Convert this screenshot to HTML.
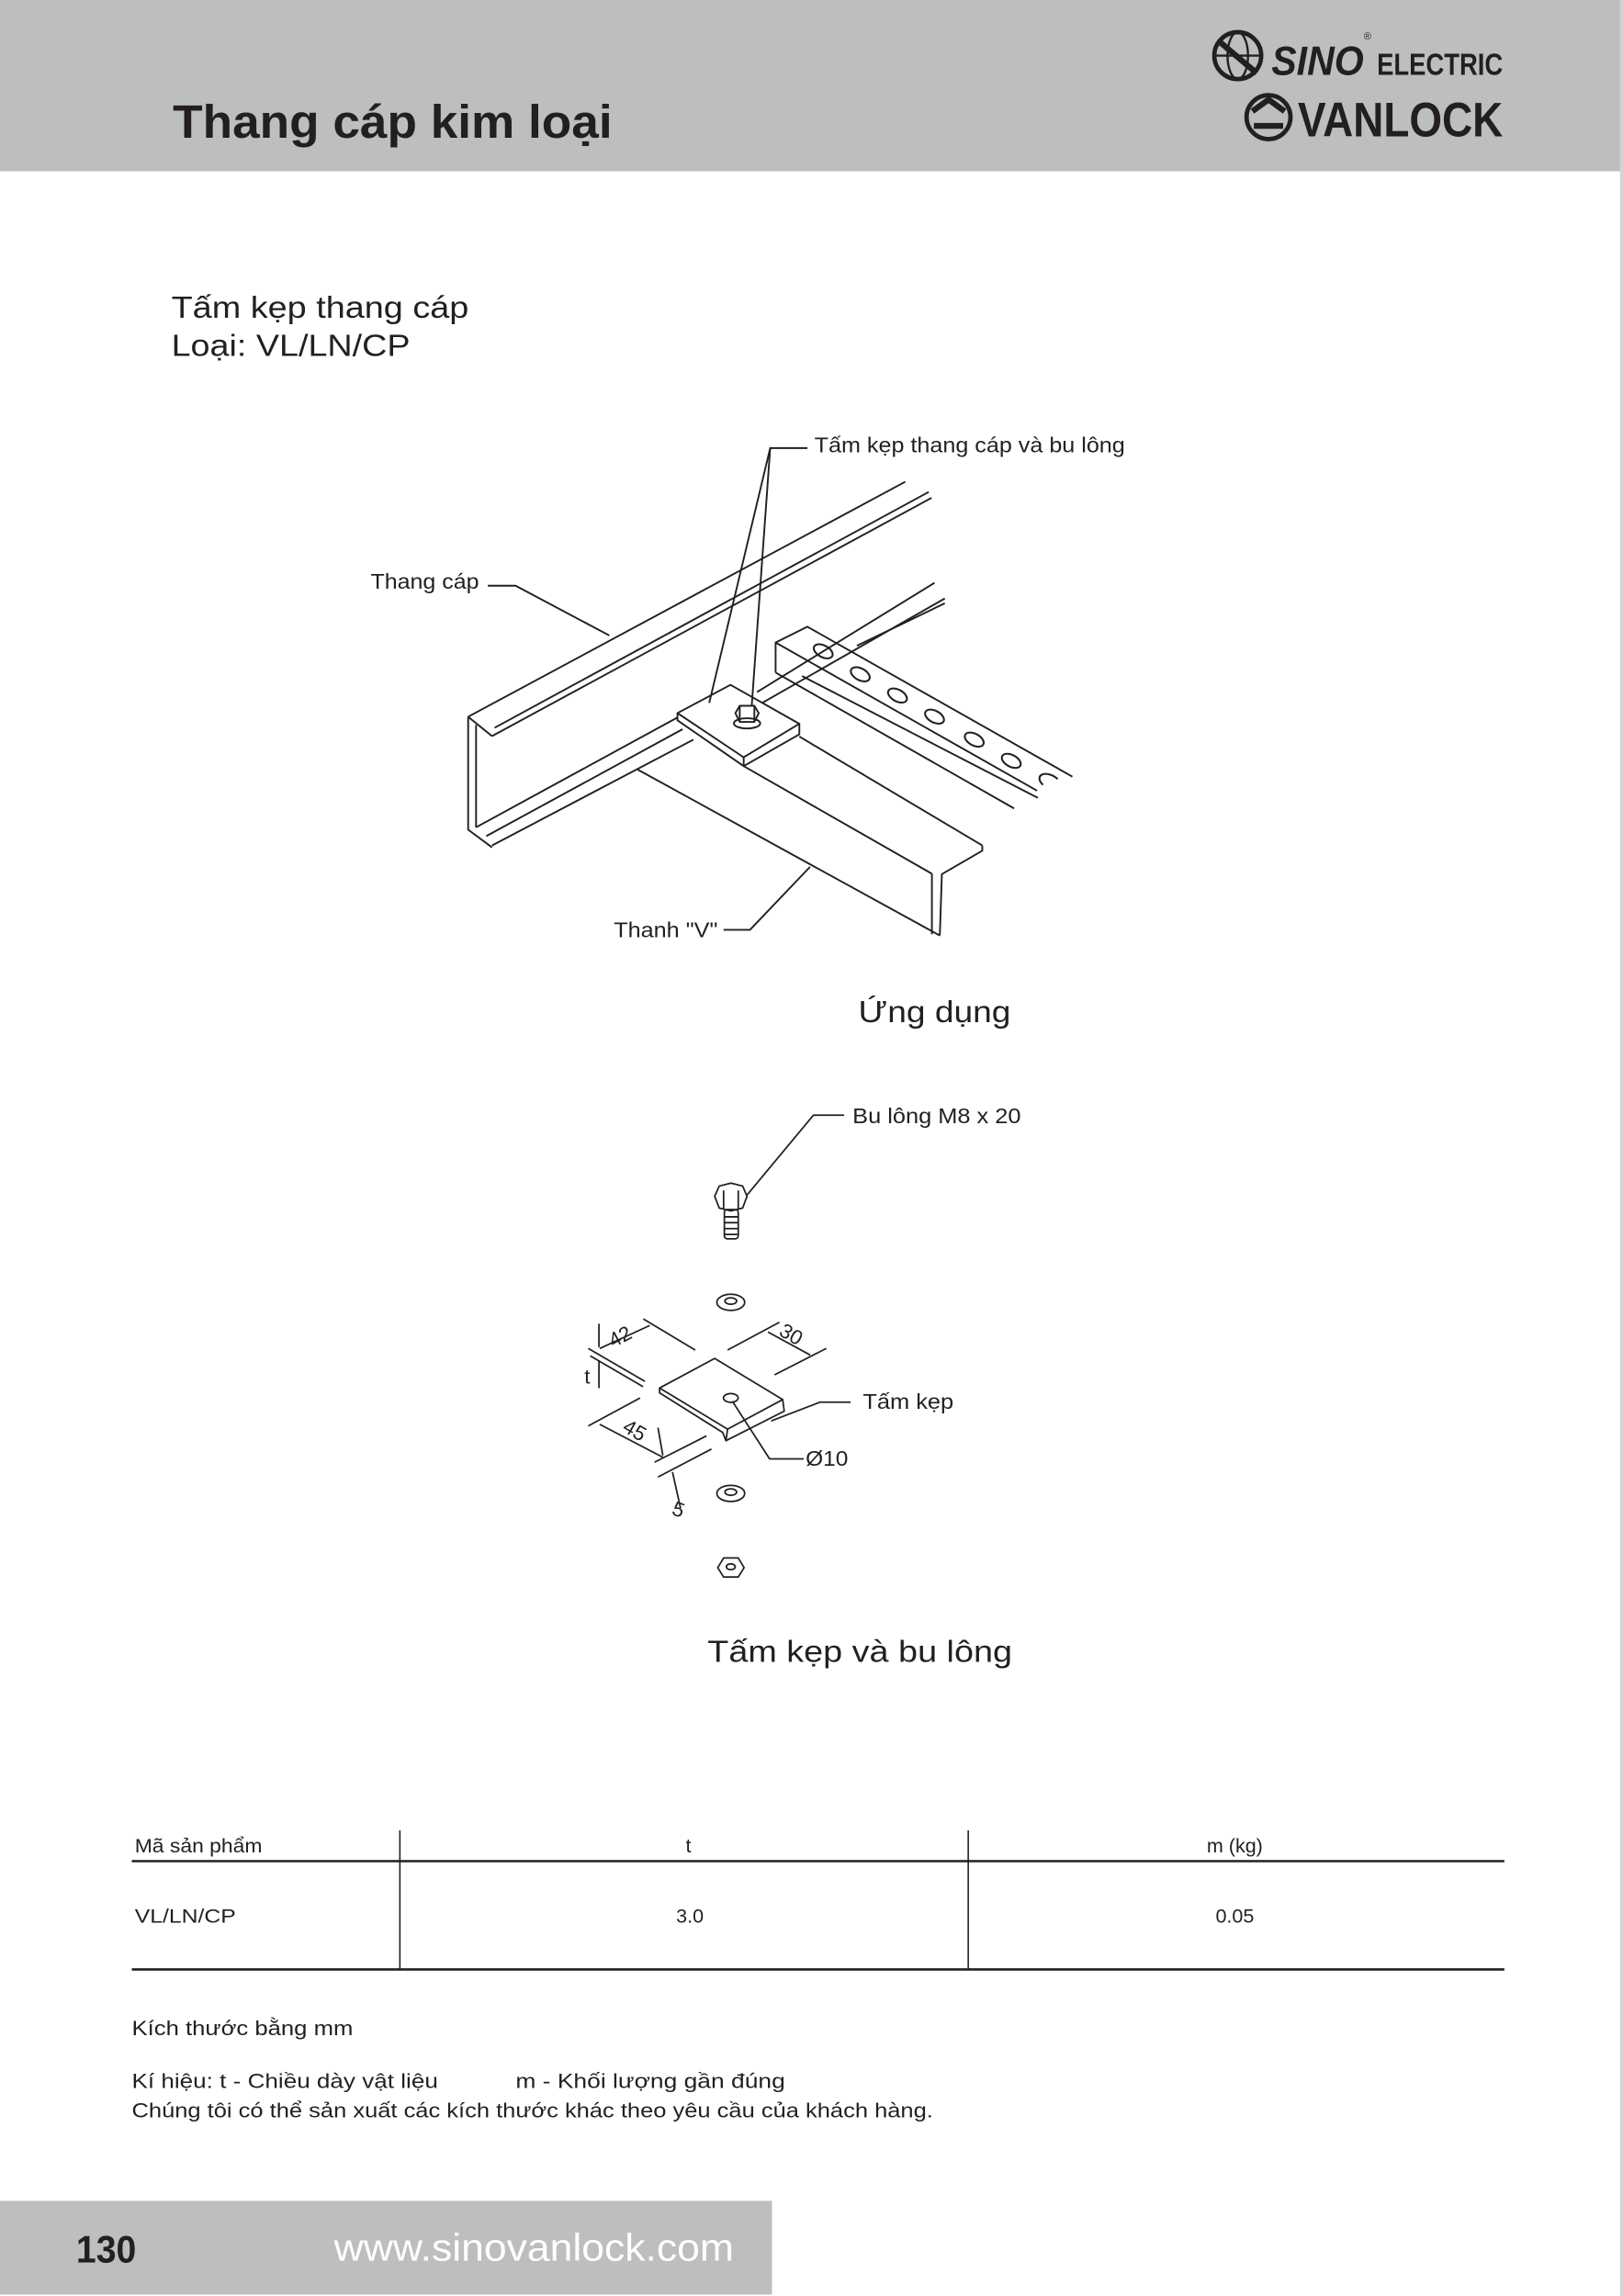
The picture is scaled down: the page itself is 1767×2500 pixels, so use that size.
<!DOCTYPE html>
<html><head><meta charset="utf-8"><style>
html,body{margin:0;padding:0;background:#fff}
svg{display:block}
text{font-family:"Liberation Sans",sans-serif;fill:#231f20}
</style></head><body>
<svg width="1767" height="2500" viewBox="0 0 1108 1568" preserveAspectRatio="none" xmlns="http://www.w3.org/2000/svg">
<rect x="0" y="0" width="1108" height="1568" fill="#fff"/>
<rect x="0" y="0" width="1108" height="117" fill="#bcbec0"/>
<rect x="1106" y="0" width="2" height="1568" fill="#d0d2d3"/>
<text x="118" y="94" font-size="32" font-weight="bold" textLength="300" lengthAdjust="spacingAndGlyphs">Thang cáp kim loại</text>
<g stroke="#231f20" fill="none" stroke-width="3">
<circle cx="845" cy="38" r="16"/>
<ellipse cx="845" cy="38" rx="7" ry="16" stroke-width="1.5"/>
<line x1="829" y1="38" x2="861" y2="38" stroke-width="1.5"/>
<path d="M832 28 L858 50" stroke-width="4"/>
<circle cx="866" cy="80" r="15"/>
<path d="M855 76 L866 68 L877 76 M856 86 L876 86" stroke-width="4"/>
</g>
<text x="868" y="51" font-size="28" font-weight="bold" font-style="italic" textLength="63" lengthAdjust="spacingAndGlyphs">SINO</text>
<text x="931" y="27" font-size="7">®</text>
<text x="940" y="51" font-size="21" font-weight="bold" textLength="86" lengthAdjust="spacingAndGlyphs">ELECTRIC</text>
<text x="886" y="93" font-size="33" font-weight="bold" textLength="140" lengthAdjust="spacingAndGlyphs">VANLOCK</text>

<text x="117" y="217" font-size="21" textLength="203" lengthAdjust="spacingAndGlyphs">Tấm kẹp thang cáp</text>
<text x="117" y="243" font-size="21" textLength="163" lengthAdjust="spacingAndGlyphs">Loại: VL/LN/CP</text>

<g stroke="#231f20" stroke-width="1.2" fill="none" stroke-linejoin="round">
<line x1="319.6" y1="489.5" x2="618" y2="329"/>
<line x1="335.9" y1="502.7" x2="636" y2="340"/>
<line x1="337.7" y1="497" x2="634" y2="336"/>
<polyline points="319.6,489.5 335.9,502.7"/>
<polyline points="319.6,489.5 319.6,566.6 335.9,578.7"/>
<line x1="325" y1="495" x2="325" y2="565"/>
<line x1="325" y1="565" x2="462.5" y2="490"/>
<line x1="335.9" y1="577.4" x2="473.4" y2="505.1"/>
<line x1="332" y1="571" x2="466" y2="498"/>
<line x1="516.8" y1="472.6" x2="638" y2="398"/>
<line x1="520.4" y1="480" x2="645" y2="408.7"/>
<line x1="585" y1="441" x2="645" y2="412"/>
<line x1="545.7" y1="503" x2="670.6" y2="577.4"/>
<line x1="507.7" y1="523.2" x2="636.2" y2="596.7"/>
<line x1="435.4" y1="525.6" x2="641.6" y2="638.9"/>
<polyline points="670.6,577.4 670.6,581 643,597 641.6,638.9"/>
<line x1="636.2" y1="596.7" x2="636.2" y2="638"/>
<polyline points="529.5,459.3 529.5,438.8 551.2,428 732.1,530.4"/>
<line x1="529.5" y1="438.8" x2="708" y2="540"/>
<line x1="529.5" y1="459.3" x2="692.3" y2="552.1"/>
<line x1="547.6" y1="461.7" x2="708.5" y2="544.9"/>
<g stroke-width="1.3">
<ellipse cx="562" cy="444.8" rx="7" ry="4" transform="rotate(28 562 444.8)"/>
<ellipse cx="587.3" cy="460.5" rx="7" ry="4" transform="rotate(28 587.3 460.5)"/>
<ellipse cx="612.7" cy="475" rx="7" ry="4" transform="rotate(28 612.7 475)"/>
<ellipse cx="638" cy="489.4" rx="7" ry="4" transform="rotate(28 638 489.4)"/>
<ellipse cx="665.1" cy="505.1" rx="7" ry="4" transform="rotate(28 665.1 505.1)"/>
<ellipse cx="690.4" cy="519.6" rx="7" ry="4" transform="rotate(28 690.4 519.6)"/>
<path d="M722 532 a7 4 28 0 0 -10 4"/>
</g>
<polygon points="462.5,487 498.7,467.7 545.7,494.3 507.7,517.2" fill="#fff"/>
<polyline points="462.5,487 462.5,491.9 507.7,523.2 545.7,501.5 545.7,494.3"/>
<line x1="507.7" y1="517.2" x2="507.7" y2="523.2"/>
<polygon points="502,487 505,482 515,482 518,487 515,493 505,493" fill="#fff"/>
<line x1="505" y1="482" x2="505" y2="493"/><line x1="515" y1="482" x2="515" y2="493"/>
<ellipse cx="510" cy="494" rx="9" ry="3.5"/>
<polyline points="551.2,306 525.8,306 484.2,480"/>
<line x1="525.8" y1="306" x2="513.2" y2="482"/>
<polyline points="333,400 352,400 416,434"/>
<polyline points="494,635 512,635 553,592"/>
</g>
<text x="556" y="309" font-size="14.5" textLength="212" lengthAdjust="spacingAndGlyphs">Tấm kẹp thang cáp và bu lông</text>
<text x="253" y="402" font-size="14.5" textLength="74" lengthAdjust="spacingAndGlyphs">Thang cáp</text>
<text x="419" y="640" font-size="14.5" textLength="71" lengthAdjust="spacingAndGlyphs">Thanh "V"</text>
<text x="586" y="698" font-size="21" textLength="104" lengthAdjust="spacingAndGlyphs">Ứng dụng</text>

<g stroke="#231f20" stroke-width="1.1" fill="none" stroke-linejoin="round">
<polyline points="576.3,761.6 555.3,761.6 508.9,817.4"/>
<polygon points="487.9,817 491,810 499,808 507,810 510,817 507,825 499,827 491,825" fill="#fff"/>
<line x1="494" y1="813" x2="494" y2="826"/><line x1="504" y1="813" x2="504" y2="826"/>
<rect x="494.5" y="826" width="9.5" height="20" rx="2"/>
<path d="M494.5 831 h9.5 M494.5 835 h9.5 M494.5 839 h9.5 M494.5 843 h9.5"/>
<ellipse cx="498.9" cy="889.4" rx="9.5" ry="5.5"/><ellipse cx="498.9" cy="888.5" rx="4" ry="2.2"/>
<polygon points="450.3,947.9 487.9,927.7 534.3,955.8 496.7,976" fill="#fff"/>
<polyline points="450.3,947.9 450.3,951.2 493.4,978.3 495.6,983.9 535.4,963.7 534.3,955.8"/>
<line x1="496.7" y1="976" x2="495.6" y2="983.9"/>
<ellipse cx="498.9" cy="954.7" rx="5" ry="3"/>
<ellipse cx="498.9" cy="1019.9" rx="9.5" ry="5.5"/><ellipse cx="498.9" cy="1019" rx="4" ry="2.2"/>
<polygon points="490,1070.6 494,1064 504,1064 508,1070.6 504,1077 494,1077"/>
<ellipse cx="498.9" cy="1070" rx="3" ry="2"/>
<polyline points="580.7,957.6 559.7,957.6 526.5,970.4"/>
<polyline points="548.7,996.3 525.4,996.3 500,957"/>
<line x1="439.2" y1="900.7" x2="474.6" y2="922"/>
<line x1="401.6" y1="920.9" x2="440.3" y2="943.4"/>
<line x1="403" y1="926" x2="439" y2="947"/>
<line x1="409.4" y1="920.9" x2="443.6" y2="905.2"/>
<line x1="496.7" y1="922" x2="532.1" y2="903"/>
<line x1="528.8" y1="938.9" x2="564.1" y2="920.9"/>
<line x1="524.3" y1="909.7" x2="553.1" y2="925.4"/>
<line x1="408.9" y1="904" x2="408.9" y2="920"/>
<line x1="408.9" y1="929" x2="408.9" y2="948"/>
<line x1="401.6" y1="973.8" x2="437" y2="954.7"/>
<line x1="446.9" y1="998.6" x2="482.3" y2="980.6"/>
<line x1="449.2" y1="1008.7" x2="485.7" y2="989.6"/>
<line x1="409.4" y1="972.7" x2="452.5" y2="995.2"/>
<line x1="449.2" y1="975" x2="452.5" y2="994"/>
<line x1="459.1" y1="1005.3" x2="464.6" y2="1030"/>
</g>
<text x="415" y="918" font-size="14" transform="rotate(-28 422 912)">42</text>
<text x="532" y="916" font-size="14" transform="rotate(30 540 912)">30</text>
<text x="399" y="945" font-size="14">t</text>
<text x="425" y="982" font-size="14" transform="rotate(30 434 978)">45</text>
<text x="459" y="1036" font-size="14" transform="rotate(20 464 1032)">5</text>
<text x="582" y="767" font-size="14.5" textLength="115" lengthAdjust="spacingAndGlyphs">Bu lông M8 x 20</text>
<text x="589" y="962" font-size="14.5" textLength="62" lengthAdjust="spacingAndGlyphs">Tấm kẹp</text>
<text x="550" y="1001" font-size="14.5" textLength="29" lengthAdjust="spacingAndGlyphs">Ø10</text>
<text x="483" y="1135" font-size="21" textLength="208" lengthAdjust="spacingAndGlyphs">Tấm kẹp và bu lông</text>

<g stroke="#231f20" fill="none">
<line x1="90" y1="1271" x2="1027" y2="1271" stroke-width="1.6"/>
<line x1="90" y1="1345" x2="1027" y2="1345" stroke-width="1.6"/>
<line x1="273" y1="1250" x2="273" y2="1345" stroke-width="1"/>
<line x1="661" y1="1250" x2="661" y2="1345" stroke-width="1"/>
</g>
<text x="92" y="1265" font-size="13.5" textLength="87" lengthAdjust="spacingAndGlyphs">Mã sản phẩm</text>
<text x="470" y="1265" font-size="13.5" text-anchor="middle">t</text>
<text x="843" y="1265" font-size="13.5" text-anchor="middle">m (kg)</text>
<text x="92" y="1313" font-size="13.5" textLength="69" lengthAdjust="spacingAndGlyphs">VL/LN/CP</text>
<text x="471" y="1313" font-size="13.5" text-anchor="middle">3.0</text>
<text x="843" y="1313" font-size="13.5" text-anchor="middle">0.05</text>
<text x="90" y="1390" font-size="14" textLength="151" lengthAdjust="spacingAndGlyphs">Kích thước bằng mm</text>
<text x="90" y="1426" font-size="14" textLength="209" lengthAdjust="spacingAndGlyphs">Kí hiệu:  t - Chiều dày vật liệu</text>
<text x="352" y="1426" font-size="14" textLength="184" lengthAdjust="spacingAndGlyphs">m  - Khối lượng gần đúng</text>
<text x="90" y="1446" font-size="14" textLength="547" lengthAdjust="spacingAndGlyphs">Chúng tôi có thể sản xuất các kích thước khác theo yêu cầu của khách hàng.</text>

<rect x="0" y="1503" width="527" height="64" fill="#bcbec0"/>
<text x="52" y="1545" font-size="26" font-weight="bold" textLength="41" lengthAdjust="spacingAndGlyphs">130</text>
<text x="228" y="1544" font-size="26" style="fill:#fff" textLength="273" lengthAdjust="spacingAndGlyphs">www.sinovanlock.com</text>
</svg>
</body></html>
